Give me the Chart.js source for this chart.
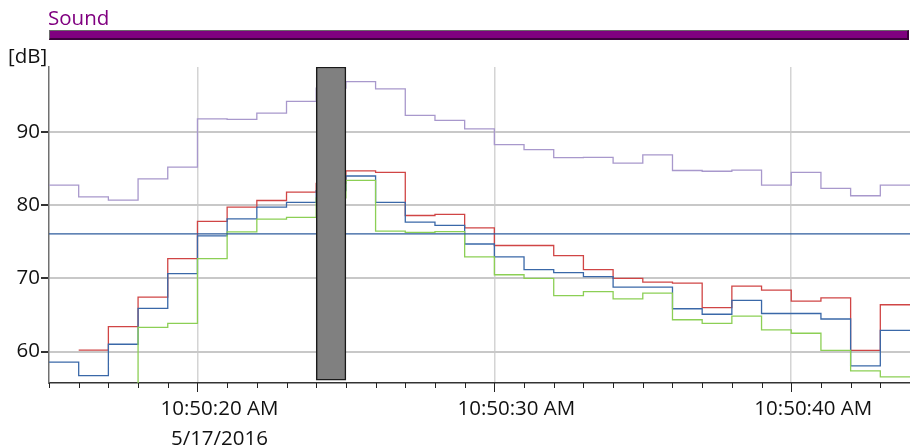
<!DOCTYPE html>
<html>
<head>
<meta charset="utf-8">
<title>Sound</title>
<script src="https://cdn.jsdelivr.net/npm/chart.js@4/dist/chart.umd.min.js"></script>
<style>
  html, body { margin: 0; padding: 0; background: #ffffff; }
  #wrap { position: relative; width: 910px; height: 445px; font-family: "Open Sans", sans-serif; }
  #chart { position: absolute; left: 0; top: 0; }
  #title { position: absolute; left: 48px; top: 3px; font-size: 20.5px; line-height: 28px; color: #800080; }
  #band {
    position: absolute; left: 49px; top: 30px; width: 857px; height: 7px;
    background: #800080;
    border-top: 1px solid #6a6a6a; border-left: 1px solid #6a6a6a;
    border-right: 2px solid #3c003c; border-bottom: 2px solid #3c003c;
  }
  #unit { position: absolute; left: 8px; top: 41px; font-size: 20.5px; line-height: 28px; color: #111111; }
</style>
</head>
<body>
<div id="wrap">
  <canvas id="chart" width="910" height="445"></canvas>
  <div id="title">Sound</div>
  <div id="band"></div>
  <div id="unit">[dB]</div>
</div>
<script>
// Time axis: seconds after 10:50:00 AM, one reading per second.
const startSecond = 15;
const endSecond = 44;

// Labelled time ticks
const labelSeconds = [20, 30, 40];
const labelTexts = [['10:50:20 AM', '5/17/2016'], '10:50:30 AM', '10:50:40 AM'];

// Level readings in dB, one per second from 10:50:15 to 10:50:43
const purpleLevels = [82.75, 81.15, 80.7, 83.6, 85.2, 91.8, 91.75, 92.6, 94.2, 96.0,
                      96.9, 95.9, 92.3, 91.6, 90.45, 88.3, 87.6, 86.5, 86.55, 85.75,
                      86.9, 84.75, 84.65, 84.8, 82.75, 84.5, 82.3, 81.3, 82.75];
const redLevels = [null, 60.2, 63.4, 67.45, 72.7, 77.8, 79.75, 80.65, 81.8, 83.0,
                   84.7, 84.5, 78.6, 78.75, 76.9, 74.5, 74.5, 73.1, 71.2, 70.0,
                   69.5, 69.35, 66.0, 68.95, 68.4, 66.9, 67.35, 60.15, 66.4];
const blueLevels = [58.55, 56.7, 61.0, 65.9, 70.65, 75.8, 78.15, 79.75, 80.4, 82.0,
                    84.0, 80.4, 77.7, 77.25, 74.7, 72.95, 71.2, 70.8, 70.25, 68.8,
                    68.8, 65.85, 65.1, 67.0, 65.2, 65.2, 64.45, 58.05, 62.9];
const greenLevels = [53, 53, 53, 63.3, 63.85, 72.7, 76.35, 78.1, 78.35, 81.0,
                     83.4, 76.45, 76.3, 76.4, 72.95, 70.5, 70.0, 67.65, 68.2, 67.2,
                     68.0, 64.35, 63.85, 64.85, 62.95, 62.5, 60.15, 57.35, 56.55];

// Reference limit line
const limitLevel = 76.1;

// Highlighted interval (seconds) and its level span
const markerSpan = [24, 25];
const markerLevels = [56.1, 98.9];

// y range
const levelMin = 55.7;
const levelMax = 98.9;

// Each reading holds for one second; the closing point ends the last step.
function stepPoints(values) {
  const pts = values.map((v, i) => ({ x: startSecond + i, y: v }));
  pts.push({ x: startSecond + values.length, y: values[values.length - 1] });
  return pts;
}

function stepLine(values, color) {
  return {
    type: 'line',
    data: stepPoints(values),
    borderColor: color,
    borderWidth: 1.3,
    stepped: 'before',
    pointRadius: 0,
    fill: false,
    spanGaps: false,
    order: 1
  };
}

// Minor tick every second, longer marks at labelled seconds
const tickMarks = {
  id: 'tickMarks',
  afterDraw(chart) {
    const xs = chart.scales.x;
    const ctx = chart.ctx;
    const y0 = chart.chartArea.bottom;
    ctx.save();
    ctx.strokeStyle = '#222222';
    ctx.lineWidth = 1;
    xs.ticks.forEach(t => {
      const px = Math.round(xs.getPixelForValue(t.value)) + 0.5;
      const len = labelSeconds.includes(t.value) ? 9 : 5;
      ctx.beginPath();
      ctx.moveTo(px, y0);
      ctx.lineTo(px, y0 + len);
      ctx.stroke();
    });
    ctx.restore();
  }
};

const baseFont = { family: '"Open Sans", sans-serif', size: 20.5 };

new Chart(document.getElementById('chart'), {
  data: {
    datasets: [
      {
        type: 'bar',
        data: [{ x: (markerSpan[0] + markerSpan[1]) / 2, y: markerLevels }],
        backgroundColor: '#808080',
        borderColor: '#1a1a1a',
        borderWidth: 1.5,
        borderSkipped: false,
        categoryPercentage: 1,
        barPercentage: 1,
        order: 0
      },
      {
        type: 'line',
        data: [{ x: startSecond, y: limitLevel }, { x: endSecond, y: limitLevel }],
        borderColor: '#2c5b9c',
        borderWidth: 1.3,
        pointRadius: 0,
        fill: false,
        order: 1
      },
      stepLine(purpleLevels, '#a898cc'),
      stepLine(greenLevels, '#8ccf55'),
      stepLine(blueLevels, '#3a68a8'),
      stepLine(redLevels, '#d04545')
    ]
  },
  options: {
    responsive: false,
    animation: false,
    events: [],
    layout: { padding: { top: 67, left: 0, right: 0, bottom: 0 } },
    plugins: { legend: { display: false }, tooltip: { enabled: false } },
    scales: {
      x: {
        type: 'linear',
        min: startSecond,
        max: endSecond,
        offset: false,
        afterFit(scale) {
          scale.height = 62;
          scale.paddingLeft = 0;
          scale.paddingRight = 0;
        },
        border: { color: '#333333', width: 1.5 },
        grid: {
          offset: false,
          color: ctx => labelSeconds.includes(ctx.tick && ctx.tick.value) ? '#d4d4d4' : 'rgba(0,0,0,0)',
          lineWidth: 1.5,
          drawTicks: true,
          tickLength: 5,
          tickColor: 'rgba(0,0,0,0)'
        },
        ticks: {
          stepSize: 1,
          autoSkip: false,
          maxRotation: 0,
          minRotation: 0,
          labelOffset: 22,
          padding: 7,
          color: '#111111',
          font: Object.assign({ lineHeight: 1.42 }, baseFont),
          callback: value => {
            const i = labelSeconds.indexOf(value);
            return i >= 0 ? labelTexts[i] : '';
          }
        }
      },
      y: {
        type: 'linear',
        min: levelMin,
        max: levelMax,
        afterFit(scale) { scale.width = 49; },
        border: { color: '#707070', width: 1.5 },
        grid: {
          color: '#c8c8c8',
          lineWidth: 2,
          drawTicks: true,
          tickLength: 8,
          tickColor: '#333333'
        },
        ticks: {
          stepSize: 10,
          includeBounds: false,
          padding: 1,
          color: '#111111',
          font: baseFont
        }
      }
    }
  },
  plugins: [tickMarks]
});
</script>
</body>
</html>
